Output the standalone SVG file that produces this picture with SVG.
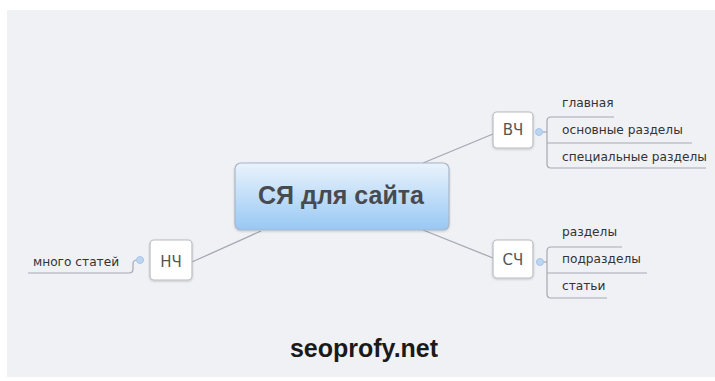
<svg xmlns="http://www.w3.org/2000/svg" width="715" height="381" viewBox="0 0 715 381">
<defs>
<linearGradient id="cg" x1="0" y1="0" x2="0" y2="1">
<stop offset="0" stop-color="#eaf3fc"/>
<stop offset="1" stop-color="#98c8f4"/>
</linearGradient>
<filter id="sh" x="-20%" y="-20%" width="140%" height="150%">
<feDropShadow dx="0" dy="1" stdDeviation="1" flood-color="#000" flood-opacity="0.18"/>
</filter>
</defs>
<style>
.ln{fill:none;stroke:#a3a9b1;stroke-width:1.3}
.br{fill:none;stroke:#a3a9b1;stroke-width:1.2}
.box{fill:#ffffff;stroke:#b8bcc2;stroke-width:1.2}
.nt{font-family:"DejaVu Sans",Verdana,sans-serif;font-size:15px;fill:#555;text-anchor:middle}
.st{font-family:"DejaVu Sans",Verdana,sans-serif;font-size:12.2px;fill:#333}
.dot{fill:#bcd6f2;stroke:#a6c4e8;stroke-width:1}
</style>
<rect x="0" y="0" width="715" height="381" fill="#ffffff"/>
<rect x="7" y="10" width="708" height="367" fill="#f0f1f5"/>
<g id="connectors">
<path class="ln" d="M423 163 L493 134"/>
<path class="ln" d="M423 230 L493 258"/>
<path class="ln" d="M261 231 L192 262"/>
<path class="br" d="M540 132 H547"/>
<path class="br" d="M614 117 H551 Q547 117 547 121 V164 Q547 168 551 168 H706"/>
<path class="br" d="M547 143 H692"/>
<path class="br" d="M540 262 H547"/>
<path class="br" d="M622 247 H551 Q547 247 547 251 V294 Q547 298 551 298 H607"/>
<path class="br" d="M547 273 H647"/>
<path class="br" d="M140 260 H137 Q133 260 133 264 V269 Q133 273 129 273 H28"/>
</g>
<g id="center">
<rect x="235" y="163" width="214" height="67" rx="6" fill="url(#cg)" stroke="#a8b6c6" stroke-width="1.2" filter="url(#sh)"/>
<text x="341" y="204" font-family="'Liberation Sans',Arial,sans-serif" font-weight="bold" font-size="25" fill="#474a4e" text-anchor="middle">СЯ для сайта</text>
</g>
<g id="vch">
<rect class="box" x="493" y="112" width="40" height="36" rx="4" filter="url(#sh)"/>
<text class="nt" x="513" y="135">ВЧ</text>
<circle class="dot" cx="539" cy="132" r="3.5"/>
</g>
<g id="vch-items">
<text class="st" x="562" y="107">главная</text>
<text class="st" x="562" y="134">основные разделы</text>
<text class="st" x="562" y="161">специальные разделы</text>
</g>
<g id="sch">
<rect class="box" x="493" y="240" width="40" height="38" rx="4" filter="url(#sh)"/>
<text class="nt" x="513" y="265">СЧ</text>
<circle class="dot" cx="540" cy="262" r="3.5"/>
</g>
<g id="sch-items">
<text class="st" x="562" y="236">разделы</text>
<text class="st" x="562" y="263">подразделы</text>
<text class="st" x="562" y="290">статьи</text>
</g>
<g id="nch">
<rect class="box" x="150" y="240" width="42" height="40" rx="4" filter="url(#sh)"/>
<text class="nt" x="171" y="267">НЧ</text>
<circle class="dot" cx="140" cy="260" r="3.5"/>
</g>
<g id="nch-items">
<text class="st" x="33" y="266">много статей</text>
</g>
<g id="footer">
<text x="364" y="357" font-family="'Liberation Sans',Arial,sans-serif" font-weight="bold" font-size="25" fill="#1a1a1a" text-anchor="middle">seoprofy.net</text>
</g>
</svg>
